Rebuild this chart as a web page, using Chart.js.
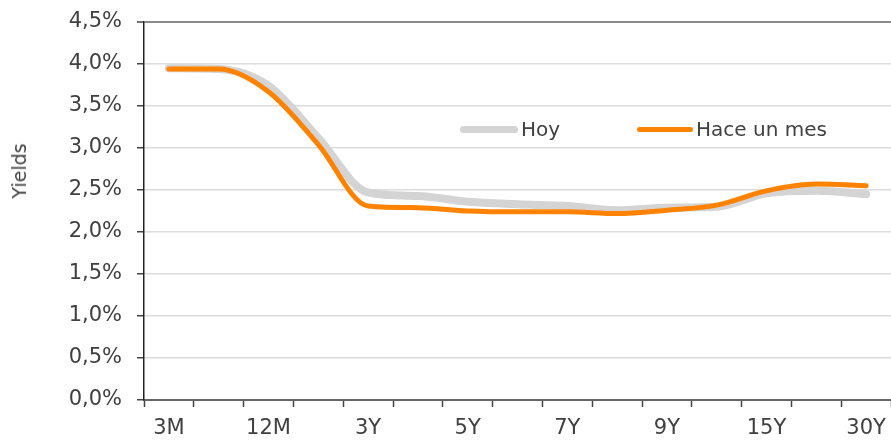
<!DOCTYPE html>
<html>
<head>
<meta charset="utf-8">
<script src="https://cdn.jsdelivr.net/npm/chart.js@4.4.1/dist/chart.umd.min.js"></script>
<style>
  html, body { margin: 0; padding: 0; background: #fff; }
  #wrap { position: relative; width: 891px; height: 441px; overflow: hidden; }
  #c { display: block; }
  .ytitle {
    position: absolute; left: 19px; top: 171px;
    transform: translate(-50%, -50%) rotate(-90deg);
    font: 19px "DejaVu Sans"; color: #404040; white-space: nowrap;
  }
  .item {
    position: absolute; display: flex; align-items: center;
    white-space: nowrap; font: 20px "DejaVu Sans"; color: #404040;
    height: 24px; top: 117px;
  }
  .sw { display: inline-block; border-radius: 4px; margin-right: 3px; }
</style>
</head>
<body>
<div id="wrap">
  <canvas id="c" width="891" height="441"></canvas>
  <div class="ytitle">Yields</div>
  <div id="legend"></div>
</div>
<script>
// Curve maturities (every other one is labelled on the axis)
const categories = ['3M', '6M', '12M', '2Y', '3Y', '4Y', '5Y', '6Y', '7Y', '8Y', '9Y', '10Y', '15Y', '20Y', '30Y'];
const tickLabels = ['3M', '12M', '3Y', '5Y', '7Y', '9Y', '15Y', '30Y'];

// Yields in %
const hoy       = [3.95, 3.94, 3.74, 3.12, 2.47, 2.43, 2.36, 2.33, 2.31, 2.26, 2.29, 2.30, 2.46, 2.49, 2.45];
const haceUnMes = [3.94, 3.94, 3.67, 3.04, 2.31, 2.29, 2.25, 2.24, 2.24, 2.22, 2.26, 2.32, 2.49, 2.57, 2.55];

const seriesNames = ['Hoy', 'Hace un mes'];
const GREY = '#d4d4d4';
const ORANGE = '#ff8200';

Chart.defaults.font.family = '"DejaVu Sans", sans-serif';
Chart.defaults.color = '#404040';

const chart = new Chart(document.getElementById('c'), {
  type: 'line',
  data: {
    labels: categories,
    datasets: [
      {
        label: seriesNames[0], data: hoy,
        borderColor: GREY, borderWidth: 8, order: 2,
        pointRadius: 0, cubicInterpolationMode: 'monotone', borderCapStyle: 'round', fill: false
      },
      {
        label: seriesNames[1], data: haceUnMes,
        borderColor: ORANGE, borderWidth: 5, order: 1,
        pointRadius: 0, cubicInterpolationMode: 'monotone', borderCapStyle: 'round', fill: false
      }
    ]
  },
  options: {
    responsive: false,
    animation: false,
    layout: { padding: 0 },
    plugins: { legend: { display: false }, tooltip: { enabled: false } },
    scales: {
      x: {
        offset: true,
        grid: { offset: true, drawOnChartArea: false, drawTicks: true, tickLength: 7, tickColor: '#444', tickWidth: 1.5 },
        border: { display: true, color: '#666', width: 2 },
        ticks: {
          autoSkip: false, maxRotation: 0, padding: 9,
          font: { size: 21 }, color: '#404040',
          callback: function (v) {
            const name = this.getLabelForValue(v);
            return tickLabels.includes(name) ? name : '';
          }
        },
        afterFit: s => { s.height = 41; s.paddingLeft = 0; s.paddingRight = 0; }
      },
      y: {
        min: 0, max: 4.5,
        grid: {
          color: c => (c.tick && c.tick.value === 4.5) ? '#8a8a8a' : '#dcdcdc',
          lineWidth: c => (c.tick && c.tick.value === 4.5) ? 2 : 1.5,
          tickLength: 7, tickColor: '#444', tickWidth: 1.5
        },
        border: { display: true, color: '#222', width: 1.5 },
        ticks: {
          stepSize: 0.5, padding: 15,
          font: { size: 21 }, color: '#404040',
          callback: v => v.toFixed(1).replace('.', ',') + '%'
        },
        afterFit: s => { s.width = 144; s.paddingTop = 22; s.paddingBottom = 0; }
      }
    }
  }
});

// Legend placed inside the plot, built from the datasets
const legendPos = [{ left: 460, sw: 58, h: 7 }, { left: 637, sw: 56, h: 5 }];
const legendEl = document.getElementById('legend');
chart.data.datasets.forEach((ds, i) => {
  const item = document.createElement('div');
  item.className = 'item';
  item.style.left = legendPos[i].left + 'px';
  const sw = document.createElement('span');
  sw.className = 'sw';
  sw.style.width = legendPos[i].sw + 'px';
  sw.style.height = legendPos[i].h + 'px';
  sw.style.background = ds.borderColor;
  const txt = document.createElement('span');
  txt.textContent = ds.label;
  item.appendChild(sw);
  item.appendChild(txt);
  legendEl.appendChild(item);
});
</script>
</body>
</html>
